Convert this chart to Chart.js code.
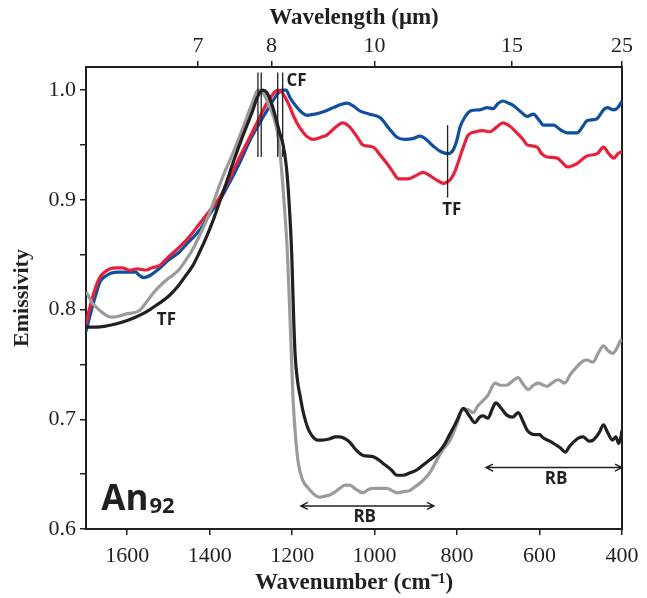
<!DOCTYPE html>
<html>
<head>
<meta charset="utf-8">
<script src="https://cdn.jsdelivr.net/npm/chart.js@4.4.0/dist/chart.umd.min.js"></script>
<style>
  html, body { margin:0; padding:0; background:#fff; }
</style>
</head>
<body>
<canvas id="chart" width="647" height="598"></canvas>
<script>
// ══════════════════════════════════════════
// An92 emissivity spectra
// ══════════════════════════════════════════

// axis ticks
const wnTicks = [1600, 1400, 1200, 1000, 800, 600, 400];
const wavelengthTicks = [7, 8, 10, 15, 25];
const yTicks = [0.6, 0.65, 0.7, 0.75, 0.8, 0.85, 0.9, 0.95, 1.0];

// blue spectrum
const blueWn = [1700,1690,1675,1665,1650,1640,1620,1600,1580,1570,1560,1545,1520,1500,1475,1450,1425,1400,1375,1350,1327,1300,1279,1260,1240,1225,1215,1205,1190,1175,1164,1145,1126,1100,1080,1067,1050,1036,1012,987,965,946,925,905,890,875,858,840,822,810,800,793,780,768,745,727,713,700,689,675,664,645,630,615,600,591,566,550,533,509,495,485,470,460,445,436,420,410,400];
const blueEm = [0.780,0.795,0.815,0.826,0.831,0.833,0.834,0.834,0.834,0.831,0.829,0.831,0.838,0.845,0.852,0.862,0.872,0.887,0.900,0.917,0.934,0.956,0.970,0.982,0.994,1.000,1.000,0.993,0.985,0.979,0.977,0.978,0.980,0.984,0.987,0.988,0.985,0.981,0.978,0.975,0.965,0.957,0.955,0.956,0.958,0.955,0.949,0.944,0.942,0.945,0.955,0.966,0.976,0.981,0.982,0.984,0.983,0.988,0.990,0.988,0.986,0.980,0.976,0.978,0.972,0.968,0.968,0.964,0.961,0.961,0.967,0.972,0.973,0.974,0.982,0.984,0.982,0.984,0.990];

// red spectrum
const redWn = [1700,1690,1675,1667,1655,1643,1625,1612,1595,1575,1554,1540,1522,1500,1473,1450,1425,1400,1376,1350,1327,1300,1279,1260,1245,1235,1225,1215,1206,1195,1182,1165,1150,1130,1116,1095,1077,1065,1053,1040,1029,1004,985,970,955,946,939,920,900,883,870,858,845,834,825,817,805,793,783,773,755,737,720,705,689,672,655,640,630,606,595,582,557,545,533,509,485,460,445,432,420,410,400];
const redEm = [0.787,0.803,0.822,0.829,0.834,0.837,0.838,0.838,0.836,0.837,0.836,0.838,0.840,0.848,0.857,0.866,0.878,0.890,0.902,0.921,0.939,0.959,0.975,0.989,0.997,1.000,0.998,0.992,0.985,0.975,0.966,0.958,0.955,0.957,0.959,0.966,0.970,0.968,0.963,0.956,0.950,0.948,0.940,0.933,0.925,0.920,0.919,0.919,0.922,0.925,0.923,0.920,0.917,0.915,0.916,0.918,0.926,0.939,0.950,0.959,0.962,0.963,0.962,0.966,0.970,0.967,0.961,0.955,0.950,0.948,0.942,0.939,0.938,0.934,0.930,0.933,0.940,0.942,0.948,0.942,0.938,0.942,0.944];

// black spectrum
const blackWn = [1700,1675,1651,1626,1600,1580,1563,1545,1529,1510,1497,1473,1460,1441,1425,1408,1390,1376,1360,1344,1320,1296,1285,1272,1262,1250,1240,1231,1222,1214,1207,1201,1197,1193,1187,1180,1174,1162,1150,1138,1126,1110,1095,1085,1070,1060,1045,1028,1004,990,980,960,946,931,915,897,880,866,850,834,818,800,785,770,757,745,737,725,715,706,693,680,665,652,640,630,611,600,591,575,566,550,537,528,518,505,494,480,470,455,445,435,423,415,408,402,400];
const blackEm = [0.784,0.784,0.785,0.787,0.790,0.793,0.796,0.800,0.804,0.809,0.813,0.823,0.830,0.840,0.852,0.866,0.883,0.898,0.915,0.933,0.958,0.981,0.993,1.000,0.998,0.988,0.975,0.962,0.950,0.930,0.895,0.850,0.800,0.760,0.735,0.720,0.708,0.692,0.684,0.681,0.681,0.682,0.684,0.684,0.682,0.679,0.672,0.667,0.666,0.663,0.660,0.654,0.649,0.649,0.651,0.654,0.659,0.663,0.668,0.675,0.686,0.699,0.710,0.703,0.697,0.702,0.703,0.701,0.709,0.715,0.710,0.704,0.702,0.706,0.698,0.690,0.686,0.686,0.683,0.680,0.678,0.674,0.670,0.675,0.679,0.683,0.684,0.680,0.681,0.688,0.695,0.688,0.681,0.684,0.678,0.685,0.690];

// grey spectrum
const greyWn = [1700,1692,1685,1672,1660,1648,1636,1620,1602,1585,1570,1555,1539,1522,1505,1490,1473,1458,1441,1425,1408,1395,1383,1365,1344,1325,1310,1295,1283,1270,1255,1238,1230,1224,1218,1212,1207,1202,1198,1192,1185,1175,1158,1145,1133,1120,1109,1095,1085,1072,1060,1045,1028,1015,1004,985,970,958,946,930,915,900,883,865,849,835,817,800,788,775,761,750,737,725,708,695,680,665,652,640,627,615,603,590,582,570,555,539,525,509,495,485,470,458,445,435,423,412,403,400];
const greyEm = [0.816,0.811,0.806,0.801,0.797,0.794,0.793,0.794,0.796,0.797,0.799,0.806,0.814,0.821,0.827,0.831,0.837,0.845,0.855,0.867,0.881,0.893,0.906,0.924,0.942,0.960,0.975,0.990,1.000,0.997,0.985,0.966,0.945,0.920,0.890,0.855,0.810,0.760,0.720,0.685,0.660,0.645,0.636,0.631,0.629,0.630,0.631,0.634,0.637,0.640,0.640,0.636,0.633,0.636,0.637,0.637,0.637,0.635,0.633,0.634,0.635,0.639,0.644,0.652,0.663,0.672,0.681,0.696,0.708,0.709,0.706,0.712,0.717,0.722,0.733,0.731,0.731,0.735,0.738,0.732,0.727,0.731,0.733,0.731,0.730,0.733,0.736,0.733,0.741,0.748,0.753,0.754,0.752,0.760,0.767,0.763,0.760,0.765,0.772,0.773];

// feature markers (wavenumber, emissivity)
const cfLineWn = [1283, 1275, 1235, 1223];
const cfLineSpan = [0.939, 1.016];
const tfLineWn = 823;
const tfLineSpan = [0.902, 0.968];
const rbArrows = [
  { from: 1179, to: 856, em: 0.621 },
  { from: 730, to: 400, em: 0.656 },
];
const textLabels = [
  { text: 'CF', wn: 1214, em: 1.0077, align: 'left' },
  { text: 'TF', wn: 1505, em: 0.790, align: 'center' },
  { text: 'TF', wn: 813, em: 0.891, align: 'center' },
  { text: 'RB', wn: 1024, em: 0.611, align: 'center' },
  { text: 'RB', wn: 560, em: 0.645, align: 'center' },
];

const INK = '#231f20';
const SERIF = "'Liberation Serif', 'Times New Roman', serif";
const SANS = "'Open Sans', 'DejaVu Sans', sans-serif";

function toPoints(xs, ys) {
  return xs.map((x, i) => ({ x, y: ys[i] }));
}

function line(label, xs, ys, color) {
  return {
    label, data: toPoints(xs, ys), borderColor: color, borderWidth: 3.2,
    pointRadius: 0, fill: false, cubicInterpolationMode: 'monotone',
  };
}

const annotations = {
  id: 'annotations',
  afterDatasetsDraw(chart) {
    const { ctx, scales: { x, y } } = chart;
    ctx.save();
    ctx.strokeStyle = INK;
    ctx.fillStyle = INK;

    // CF / TF vertical markers
    ctx.lineWidth = 1.3;
    cfLineWn.forEach(wn => {
      const px = x.getPixelForValue(wn);
      ctx.beginPath();
      ctx.moveTo(px, y.getPixelForValue(cfLineSpan[1]));
      ctx.lineTo(px, y.getPixelForValue(cfLineSpan[0]));
      ctx.stroke();
    });
    const tx = x.getPixelForValue(tfLineWn);
    ctx.beginPath();
    ctx.moveTo(tx, y.getPixelForValue(tfLineSpan[1]));
    ctx.lineTo(tx, y.getPixelForValue(tfLineSpan[0]));
    ctx.stroke();

    // RB double arrows
    ctx.lineWidth = 1.4;
    rbArrows.forEach(a => {
      const x1 = x.getPixelForValue(a.from), x2 = x.getPixelForValue(a.to);
      const py = y.getPixelForValue(a.em);
      ctx.beginPath();
      ctx.moveTo(x1, py); ctx.lineTo(x2, py);
      ctx.moveTo(x1 + 7, py - 3.5); ctx.lineTo(x1, py); ctx.lineTo(x1 + 7, py + 3.5);
      ctx.moveTo(x2 - 7, py - 3.5); ctx.lineTo(x2, py); ctx.lineTo(x2 - 7, py + 3.5);
      ctx.stroke();
    });

    // labels
    ctx.font = `bold 17px ${SANS}`;
    ctx.textBaseline = 'middle';
    textLabels.forEach(l => {
      ctx.textAlign = l.align;
      ctx.fillText(l.text, x.getPixelForValue(l.wn), y.getPixelForValue(l.em));
    });

    // sample name
    const ax = x.getPixelForValue(1663), ay = y.getPixelForValue(0.617);
    ctx.textAlign = 'left';
    ctx.textBaseline = 'alphabetic';
    ctx.font = `bold 35px ${SANS}`;
    ctx.fillText('An', ax, ay);
    const w = ctx.measureText('An').width;
    ctx.font = `bold 22px ${SANS}`;
    ctx.fillText('92', ax + w + 1, ay + 3);
    ctx.restore();
  }
};

const tickGrid = { drawOnChartArea: false, drawTicks: true, tickLength: 6, color: INK, lineWidth: 1.5 };
const frame = { display: true, color: INK, width: 2 };
const tickFont = { family: SERIF, size: 22 };
const titleFont = { family: SERIF, size: 23, weight: 'bold' };

new Chart(document.getElementById('chart'), {
  type: 'line',
  data: {
    datasets: [
      line('black', blackWn, blackEm, INK),
      line('grey', greyWn, greyEm, '#9b9b9b'),
      line('red', redWn, redEm, '#e8213b'),
      line('blue', blueWn, blueEm, '#0f4fa0'),
    ]
  },
  options: {
    responsive: false,
    animation: false,
    layout: { padding: 0 },
    plugins: { legend: { display: false }, tooltip: { enabled: false } },
    scales: {
      x: {
        type: 'linear', position: 'bottom', reverse: true, min: 400, max: 1700,
        afterBuildTicks: s => { s.ticks = wnTicks.map(v => ({ value: v })); },
        afterFit: s => { s.height = 69; },
        ticks: { color: INK, font: tickFont, padding: 8, maxRotation: 0, autoSkip: false, callback: v => String(v) },
        grid: tickGrid, border: frame,
        title: { display: true, text: 'Wavenumber (cm⁻¹)', color: INK, font: titleFont, padding: { top: 0, bottom: 1 } }
      },
      x2: {
        type: 'linear', position: 'top', reverse: true, min: 400, max: 1700,
        afterBuildTicks: s => { s.ticks = wavelengthTicks.map(l => ({ value: 10000 / l })); },
        afterFit: s => { s.height = 67; },
        ticks: { color: INK, font: tickFont, padding: 2, maxRotation: 0, autoSkip: false, callback: (v, i) => String(wavelengthTicks[i]) },
        grid: tickGrid, border: frame,
        title: { display: true, text: 'Wavelength (μm)', color: INK, font: titleFont, padding: { top: 4, bottom: 0 } }
      },
      y: {
        position: 'left', min: 0.6, max: 1.021,
        afterBuildTicks: s => { s.ticks = yTicks.map(v => ({ value: v })); },
        afterFit: s => { s.width = 86; },
        ticks: { color: INK, font: tickFont, padding: 4,
          callback: v => (Math.round(v * 100) % 10 === 0 ? v.toFixed(1) : '') },
        grid: tickGrid, border: frame,
        title: { display: true, text: 'Emissivity', color: INK, font: { family: SERIF, size: 22, weight: 'bold' }, padding: { top: 9, bottom: 0 } }
      },
      y2: {
        position: 'right', min: 0.6, max: 1.021,
        afterFit: s => { s.width = 25; },
        ticks: { display: false },
        grid: { drawOnChartArea: false, drawTicks: false },
        border: frame
      }
    }
  },
  plugins: [annotations]
});
</script>
</body>
</html>
